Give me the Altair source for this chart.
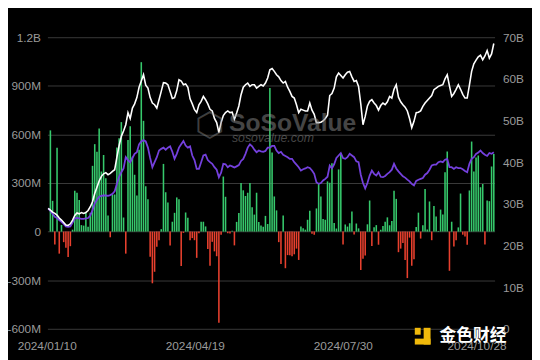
import altair as alt
import pandas as pd

# ---------------- data ----------------
holidays = ["2024-01-15", "2024-02-19", "2024-03-29", "2024-05-27",
            "2024-06-19", "2024-07-04", "2024-09-02"]
dates = [d.strftime("%Y/%m/%d") for d in
         pd.bdate_range("2024-01-10", "2024-10-28", freq="C", holidays=holidays)]

# daily net inflow, millions USD (left axis)
flows = [
    0, 625, 190, -79, 518, -136, 41, -65, -100, -157,
    -90, 12, 253, 240, 195, 40, 37, 116, 30, 116,
    406, 540, 493, 636, 371, 473, 330, 100, -35, 229,
    229, 519, 577, 676, 87, -136, 565, 650, 463, 351,
    223, 505, 1046, 684, 280, 199, -156, -319, -248, -94,
    -53, 15, 418, 243, 179, -86, 61, 116, 211, 199,
    -213, -8, 118, 85, -53, -40, -53, -162, -10, 61,
    61, 32, -107, -211, -63, -122, -152, -562, -20, 340,
    215, -10, -12, 5, -85, 60, 115, 300, 255, 220,
    240, 300, 150, 105, 240, 60, 37, 30, 97, 47,
    887, 488, 217, 131, -65, -200, 100, -226, -145, -146,
    -152, -140, -105, -175, 31, 21, 12, 73, 129, -13,
    -20, 143, 295, 216, 78, 73, 310, 301, 422, 53,
    19, 384, 486, -79, 44, 31, 52, 124, -18, 50,
    20, -237, -168, -148, 45, 192, -89, 27, 40, -81,
    11, 35, 61, 88, 39, 65, 252, 202, -127, -105,
    -71, -175, -287, -37, -211, -170, 28, 117, -43, 39,
    263, 13, 186, -53, 158, 93, 4, 136, 106, 366,
    494, -242, 61, -92, -54, 26, 235, -19, -30, -81,
    254, 556, 371, 458, 470, 274, 294, -79, 192, 188,
    402, 479,
]

# total net assets, billions USD (white line, right axis)
net_assets = [
    28.9, 28.5, 28.0, 27.7, 27.3, 26.6, 26.1, 25.5, 24.9, 24.8,
    25.2, 26.1, 27.2, 27.8, 27.6, 27.9, 27.7, 27.9, 28.4, 29.3,
    30.5, 32.5, 34.0, 35.5, 36.6, 37.2, 37.5, 37.0, 37.3, 37.8,
    38.2, 41.2, 44.0, 46.2, 47.5, 49.0, 51.9, 50.5, 53.0, 54.0,
    55.5, 58.0, 59.5, 61.0, 58.5, 57.8, 55.5, 54.2, 53.8, 53.0,
    55.0, 57.0, 59.1, 59.0, 58.6, 57.0, 55.3, 55.5, 57.2, 59.8,
    59.5, 58.6, 58.8, 58.0, 55.2, 54.0, 52.6, 51.9, 53.8, 54.6,
    55.8, 55.0, 54.0, 52.7, 52.3, 50.5, 49.5, 47.1, 49.5, 51.2,
    51.9, 52.3, 51.9, 52.0, 50.3, 51.8, 53.5, 56.2, 58.0, 58.6,
    59.0, 58.2, 58.6, 58.6, 57.8, 58.2, 58.6, 58.3, 59.0, 60.2,
    62.2, 62.5, 61.8, 61.0, 60.5, 59.6, 59.0, 59.4, 58.0, 57.0,
    55.8, 55.4, 53.8, 51.9, 52.7, 52.5, 52.3, 52.3, 54.2, 52.5,
    51.5, 49.5, 49.5, 49.6, 49.9, 50.5, 51.3, 56.0, 56.5, 57.8,
    60.5, 61.4, 60.8, 60.2, 61.0, 61.6, 61.8, 60.5, 59.4, 59.6,
    58.2, 54.0, 49.0, 51.0, 53.5, 54.6, 55.0, 54.2, 53.6, 52.5,
    53.6, 54.2, 53.8, 54.5, 55.8, 55.4, 57.5, 58.6, 55.6, 54.5,
    53.8, 53.2, 52.3, 50.5, 48.3, 49.8, 51.9, 52.0, 52.3, 53.4,
    54.2, 54.8, 55.4, 56.0, 57.4, 57.8, 58.2, 58.4, 58.6, 60.0,
    61.0, 58.3, 55.8, 56.5, 57.5, 58.6, 57.5, 56.3, 55.4, 55.4,
    58.5, 61.8, 63.6, 64.5, 65.3, 65.7, 64.6, 65.5, 66.8, 65.0,
    66.0, 68.5,
]

# purple series, billions USD (right axis)
purple_vals = [
    28.9, 28.3, 27.6, 26.9, 26.6, 26.1, 25.7, 25.2, 24.6, 24.5,
    24.6, 25.5, 26.5, 26.6, 26.5, 26.4, 26.4, 26.5, 26.6, 27.2,
    28.5, 30.1, 31.0, 31.7, 31.9, 32.0, 32.0, 31.9, 32.1, 32.4,
    33.0, 34.8, 36.5, 37.6, 38.5, 41.2, 40.5, 40.0, 41.0, 42.0,
    42.4, 44.3, 45.0, 45.3, 45.0, 43.5, 41.0, 38.8, 40.0, 41.2,
    42.8, 43.2, 43.5, 43.0, 43.5, 43.8, 42.5, 40.8, 42.0, 43.5,
    44.3, 45.1, 44.0, 43.5, 43.8, 41.6, 40.5, 38.4, 38.4, 40.0,
    41.6, 41.8, 40.5, 40.0, 39.6, 38.8, 38.2, 36.4, 37.5, 39.6,
    39.5, 38.8, 39.2, 39.0, 38.7, 39.0, 39.3, 40.3, 40.8, 42.0,
    43.5, 44.3, 43.8, 43.0, 42.4, 42.8, 42.6, 42.5, 42.7, 43.5,
    43.5, 43.9, 43.9, 42.8, 42.2, 42.5, 41.8, 41.5, 41.2, 40.8,
    40.8, 40.0, 39.4, 38.8, 38.0, 38.3, 38.5, 38.8, 38.6, 38.0,
    37.2, 35.2, 34.8, 35.0, 35.6, 36.0, 36.5, 39.2, 38.5, 39.5,
    41.0, 41.6, 42.2, 41.0, 40.8, 41.2, 42.0, 41.6, 41.2, 40.2,
    40.0, 37.0, 35.0, 33.7, 35.0, 36.8, 38.0, 37.2, 36.8, 37.6,
    36.5, 36.4, 36.7, 37.2, 37.6, 38.2, 39.6, 38.5, 37.8, 37.2,
    36.6, 36.3, 35.8, 35.4, 34.8, 34.4, 35.5, 35.8, 36.0, 36.2,
    37.0, 37.4, 38.2, 39.2, 39.4, 39.4, 40.0, 40.2, 40.0, 40.6,
    40.8, 38.8, 38.8, 38.4, 38.8, 38.6, 38.6, 38.3, 37.9, 37.6,
    39.6, 40.8, 41.2, 42.0, 42.3, 42.8, 42.2, 41.8, 41.5, 42.2,
    42.0, 42.4,
]

label_dates = ["2024/01/10", "2024/04/19", "2024/07/30", "2024/10/28"]
left_ticks = [-600, -300, 0, 300, 600, 900, 1200]
right_ticks = [0, 10, 20, 30, 40, 50, 60, 70]

n = min(len(dates), len(flows), len(net_assets), len(purple_vals))
df = pd.DataFrame({
    "date": dates[:n],
    "flow": flows[:n],
    "assets": net_assets[:n],
    "purple": purple_vals[:n],
})

# ---------------- styling ----------------
BG = "#000000"
GREEN = "#36c96c"
RED = "#e8402e"
PURPLE = "#7440dd"
LABEL = "#9a9a9a"
GRID = "#3a3a3a"
FONT = "Liberation Sans"

label_offset = {
    "condition": [
        {"test": "datum.value === '2024/04/19'", "value": -6},
        {"test": "datum.value === '2024/07/30'", "value": -11},
        {"test": "datum.value === '2024/10/28'", "value": -17},
    ],
    "value": -1,
}


def x_enc(band_pos=None):
    kw = {}
    if band_pos is not None:
        kw["bandPosition"] = band_pos
    return alt.X(
        "date:O", sort=None, title=None,
        scale=alt.Scale(paddingInner=0.3, paddingOuter=0),
        axis=alt.Axis(values=label_dates, labelAngle=0, labelColor=LABEL,
                      labelFontSize=12, labelFont=FONT, ticks=False,
                      domain=False, grid=False, labelPadding=12,
                      labelOffset=label_offset),
        **kw,
    )


base = alt.Chart(df)

bars = base.mark_bar().encode(
    x=x_enc(),
    y=alt.Y("flow:Q", title=None,
            scale=alt.Scale(domain=[-600, 1200], nice=False, zero=False),
            axis=alt.Axis(orient="left", values=left_ticks,
                          labelExpr="datum.value == 0 ? '0' : (abs(datum.value) >= 1000 ? format(datum.value/1000, '.1f') + 'B' : datum.value + 'M')",
                          grid=True, gridColor=GRID, gridWidth=1,
                          ticks=False, domain=False, labelPadding=7,
                          labelColor=LABEL, labelFontSize=12, labelFont=FONT)),
    color=alt.condition("datum.flow >= 0", alt.value(GREEN), alt.value(RED)),
)

right_axis = alt.Axis(orient="right", values=right_ticks,
                      labelExpr="datum.value == 0 ? '0' : datum.value + 'B'",
                      grid=False, ticks=False, domain=False, labelPadding=8,
                      labelColor=LABEL, labelFontSize=12, labelFont=FONT)

purple_line = base.mark_line(color=PURPLE, strokeWidth=1.8).encode(
    x=x_enc(0.5),
    y=alt.Y("purple:Q", title=None,
            scale=alt.Scale(domain=[0, 70], nice=False, zero=False),
            axis=right_axis),
)
white_line = base.mark_line(color="#ffffff", strokeWidth=1.6).encode(
    x=x_enc(0.5),
    y=alt.Y("assets:Q", title=None,
            scale=alt.Scale(domain=[0, 70], nice=False, zero=False),
            axis=right_axis),
)
lines = alt.layer(purple_line, white_line)

# watermarks
wm1 = alt.Chart(pd.DataFrame({"t": ["SoSoValue"]})).mark_text(
    font=FONT, fontSize=25, fontWeight="bold", color="#8a8a8a", opacity=0.5,
    align="center", baseline="middle",
).encode(x=alt.value(249), y=alt.value(87), text="t:N")

wm_icon = alt.Chart(pd.DataFrame({"t": ["⬡"]})).mark_text(
    font="DejaVu Sans", fontSize=34, color="#8a8a8a", opacity=0.45,
    align="center", baseline="middle",
).encode(x=alt.value(165), y=alt.value(90), text="t:N")

wm2 = alt.Chart(pd.DataFrame({"t": ["sosovalue.com"]})).mark_text(
    font=FONT, fontSize=12.5, fontStyle="italic", color="#8a8a8a", opacity=0.5,
    align="center", baseline="middle",
).encode(x=alt.value(229), y=alt.value(102), text="t:N")

wm3 = alt.Chart(pd.DataFrame({"t": ["金色财经"]})).mark_text(
    font="Noto Sans CJK SC", fontSize=17, fontWeight="bold", color="#ffffff",
    align="center", baseline="middle",
).encode(x=alt.value(432), y=alt.value(303), text="t:N")

logo_a = alt.Chart(pd.DataFrame({"p": ["a"]})).mark_rect(color="#f0b90b").encode(
    x=alt.value(373), x2=alt.value(379), y=alt.value(295), y2=alt.value(302))
logo_b = alt.Chart(pd.DataFrame({"p": ["b"]})).mark_rect(color="#f0b90b").encode(
    x=alt.value(382), x2=alt.value(389), y=alt.value(295), y2=alt.value(312))
logo_c = alt.Chart(pd.DataFrame({"p": ["c"]})).mark_rect(color="#f0b90b").encode(
    x=alt.value(373), x2=alt.value(389), y=alt.value(306), y2=alt.value(312))

chart = alt.layer(bars, lines, wm_icon, wm1, wm2, logo_a, logo_b, logo_c, wm3).resolve_scale(
    y="independent"
).properties(
    width=454, height=296,
    padding={"left": 40, "top": 27, "right": 38, "bottom": 29},
    autosize=alt.AutoSizeParams(type="none"),
    background=BG,
).configure_view(stroke=None)

chart.save("out.html", embed_options={"renderer": "svg", "actions": False})
